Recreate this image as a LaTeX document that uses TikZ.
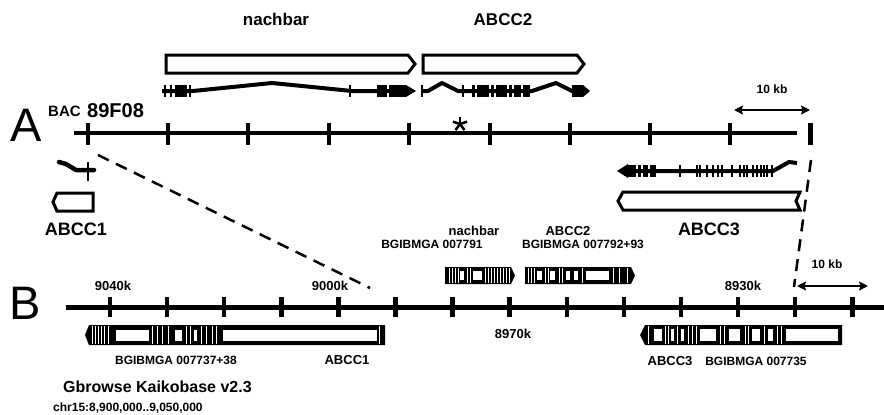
\documentclass[tikz,border=0pt]{standalone}
\usepackage{fontspec}
\setmainfont{Liberation Sans}
\usetikzlibrary{arrows.meta}

\begin{document}
\begin{tikzpicture}[x=1pt,y=-1pt,
  axis/.style={line width=4pt},
  tickmark/.style={line width=4pt},
  genebox/.style={line width=3pt, fill=white, line join=miter},
  intron/.style={line width=4pt, line join=round},
  exontick/.style={line width=2pt},
  gapline/.style={white, line width=0.7pt},
  lbl/.style={font=\bfseries\fontsize{12}{14}\selectfont, inner sep=0pt, anchor=base},
  midlbl/.style={font=\bfseries\fontsize{13}{15}\selectfont, inner sep=0pt, anchor=base},
  biglbl/.style={font=\bfseries\fontsize{18}{20}\selectfont, inner sep=0pt, anchor=base},
  panel/.style={font=\fontsize{47}{50}\selectfont, inner sep=0pt},
  zoomline/.style={line width=2.5pt, dash pattern=on 12pt off 8pt},
  scalebar/.style={line width=2pt, {Stealth[length=9pt,width=9pt,inset=1.5pt]}-{Stealth[length=9pt,width=9pt,inset=1.5pt]}}]

\useasboundingbox (0,0) rectangle (884,415);

% panel A: BAC 89F08
\node[panel] (labA) at (26,125) {A};
\node[font=\bfseries\fontsize{15}{17}\selectfont, inner sep=0pt, anchor=base west] (bacname) at (48,116) {BAC};
\node[font=\bfseries\fontsize{20}{22}\selectfont, inner sep=0pt, anchor=base west] (bacnum) at (87,117) {89F08};

\node[font=\bfseries\fontsize{17}{19}\selectfont, inner sep=0pt, anchor=base] (nachA) at (276,25) {nachbar};
\node[font=\bfseries\fontsize{17}{19}\selectfont, inner sep=0pt, anchor=base] (abcctwoA) at (503,25) {ABCC2};

% transcript boxes
\draw[genebox] (166,55) -- (408,55) -- (415,64) -- (408,73) -- (166,73) -- cycle;
\draw[genebox] (423,55) -- (577,55) -- (584,64) -- (577,73) -- (423,73) -- cycle;
\draw[genebox] (57,193) -- (93,193) -- (93,211) -- (57,211) -- (53,202) -- cycle;
\draw[genebox] (623,192) -- (800,192) -- (796,201) -- (800,210) -- (623,210) -- (618,201) -- cycle;

% nachbar gene
\draw[intron] (162,91) -- (193,91) -- (272,83) -- (352,91) -- (405,91);
\foreach \x in {165,171,190,350} \draw[exontick] (\x,85) -- (\x,97);
\fill (175,85) rectangle (187,97);
\fill (377,85) rectangle (387,97);
\fill (389,85) rectangle (406,97);
\fill (406,85) -- (416,91) -- (406,97) -- cycle;

% ABCC2 gene
\draw[intron] (422,91) -- (428,91) -- (442,83) -- (458,91) -- (532,91) -- (556,83) -- (572,91) -- (583,91);
\foreach \x in {422,463} \draw[exontick] (\x,85) -- (\x,97);
\foreach \a/\b in {472/475,477/489,491/494,496/507,509/512,514/521,523/530,572/583}
  \fill (\a,85) rectangle (\b,97);
\fill (583,85) -- (590,91) -- (583,97) -- cycle;

% ABCC1 gene
\draw[line width=4.5pt, line join=round, line cap=round] (59,162) -- (66,164) -- (76,170) -- (94,170);
\draw[line width=2.5pt] (88,162) -- (88,181);

% ABCC3 gene
\draw[intron] (625,171) -- (773,171) -- (789,162) -- (797,163);
\fill (617,171) -- (628,164) -- (628,178) -- cycle;
\foreach \a/\b in {628/636,638/641,643/648,650/656}
  \fill (\a,165) rectangle (\b,177);
\foreach \x in {680,697,700,707,713,718,722,732,740,744,747,753,757,761,764,767,772}
  \draw[exontick] (\x,165) -- (\x,177);

% BAC axis
\draw[axis] (74,133) -- (797,133);
\foreach \x in {88,168,248,329,409,490,570,650,730}
  \draw[tickmark] (\x,123) -- (\x,145);
\draw[line width=5pt] (810,123) -- (810,145);
\foreach \a in {-90,-18,54,126,198}
  \draw[line width=2.5pt] (460,124) -- ++(\a:7.5);

\coordinate (kbAl) at (734,110);
\coordinate (kbAr) at (810,110);
\draw[scalebar] (kbAl) -- (kbAr);
\node[lbl] (kbA) at (772,93) {10 kb};

\node[biglbl] (abcconeA) at (76,235) {ABCC1};
\node[biglbl] (abccthreeA) at (709,235) {ABCC3};

% zoom lines
\coordinate (zA1) at (98,155);
\coordinate (zB1) at (370,288);
\coordinate (zA2) at (811,160);
\coordinate (zB2) at (794,287);
\draw[zoomline] (zA1) -- (zB1);
\draw[zoomline] (zA2) -- (zB2);

% panel B: Kaikobase
\node[panel] (labB) at (25,303) {B};
\draw[line width=5pt] (66,307) -- (884,307);
\foreach \i in {0,...,13}
  \draw[line width=4.5pt] (110+57.1*\i,297) -- (110+57.1*\i,317);

\node[midlbl] (kpos1) at (113,290) {9040k};
\node[midlbl] (kpos2) at (330,290) {9000k};
\node[midlbl] (kpos3) at (743,290) {8930k};
\node[midlbl] (kpos4) at (513,338) {8970k};

\coordinate (kbBl) at (797,286);
\coordinate (kbBr) at (868,286);
\draw[scalebar] (kbBl) -- (kbBr);
\node[lbl] (kbB) at (827,268) {10 kb};

% 007737+38 / ABCC1
\fill (85,335) -- (89,325) -- (385,325) -- (385,345) -- (89,345) -- cycle;
\foreach \a/\b in {116/149,175/182,194/197,223/377}
  \fill[white] (\a,330) rectangle (\b,341);
\foreach \x in {92,95,98,101,104,108,152,157,162,168,186,190,201,206,212,216,379}
  \draw[gapline] (\x,326) -- (\x,344);

% 007791 nachbar
\fill (445,267) -- (511,267) -- (515,275.5) -- (511,284) -- (445,284) -- cycle;
\foreach \a/\b in {460/464,473/482}
  \fill[white] (\a,271) rectangle (\b,280);
\foreach \x in {449,452,455,458,467,470,485,488,491,494,497,500,503,506,509}
  \draw[gapline] (\x,268) -- (\x,283);

% 007792+93 ABCC2
\fill (525,267) -- (631,267) -- (635,275.5) -- (631,284) -- (525,284) -- cycle;
\foreach \a/\b in {537/542,550/555,566/570,574/578,586/609}
  \fill[white] (\a,271) rectangle (\b,280);
\foreach \x in {528,531,534,545,548,559,562,582,613,619,627}
  \draw[gapline] (\x,268) -- (\x,283);

% 007735 ABCC3
\fill (640,335) -- (645,325) -- (842,325) -- (842,345) -- (645,345) -- cycle;
\foreach \a/\b in {654/662,671/674,681/684,700/716,729/740,752/760,768/773,786/838}
  \fill[white] (\a,329) rectangle (\b,341);
\foreach \x in {648,665,668,677,688,692,696,720,724,745,748,764,777,781}
  \draw[gapline] (\x,326) -- (\x,344);

\node[midlbl] (nachB) at (474,235) {nachbar};
\node[lbl] (idnach) at (432,248) {BGIBMGA 007791};
\node[midlbl] (abcctwoB) at (568,235) {ABCC2};
\node[lbl] (idtwo) at (583,248) {BGIBMGA 007792+93};
\node[lbl] (idone) at (176,364) {BGIBMGA 007737+38};
\node[midlbl] (abcconeB) at (347,364) {ABCC1};
\node[midlbl] (abccthreeB) at (670,365) {ABCC3};
\node[lbl] (idthree) at (756,365) {BGIBMGA 007735};

\node[font=\bfseries\fontsize{16}{18}\selectfont, inner sep=0pt, anchor=base west] (gbrowse) at (63,392) {Gbrowse Kaikobase v2.3};
\node[lbl, anchor=base west] (chrom) at (53,411) {chr15:8,900,000..9,050,000};
\end{tikzpicture}
\end{document}
